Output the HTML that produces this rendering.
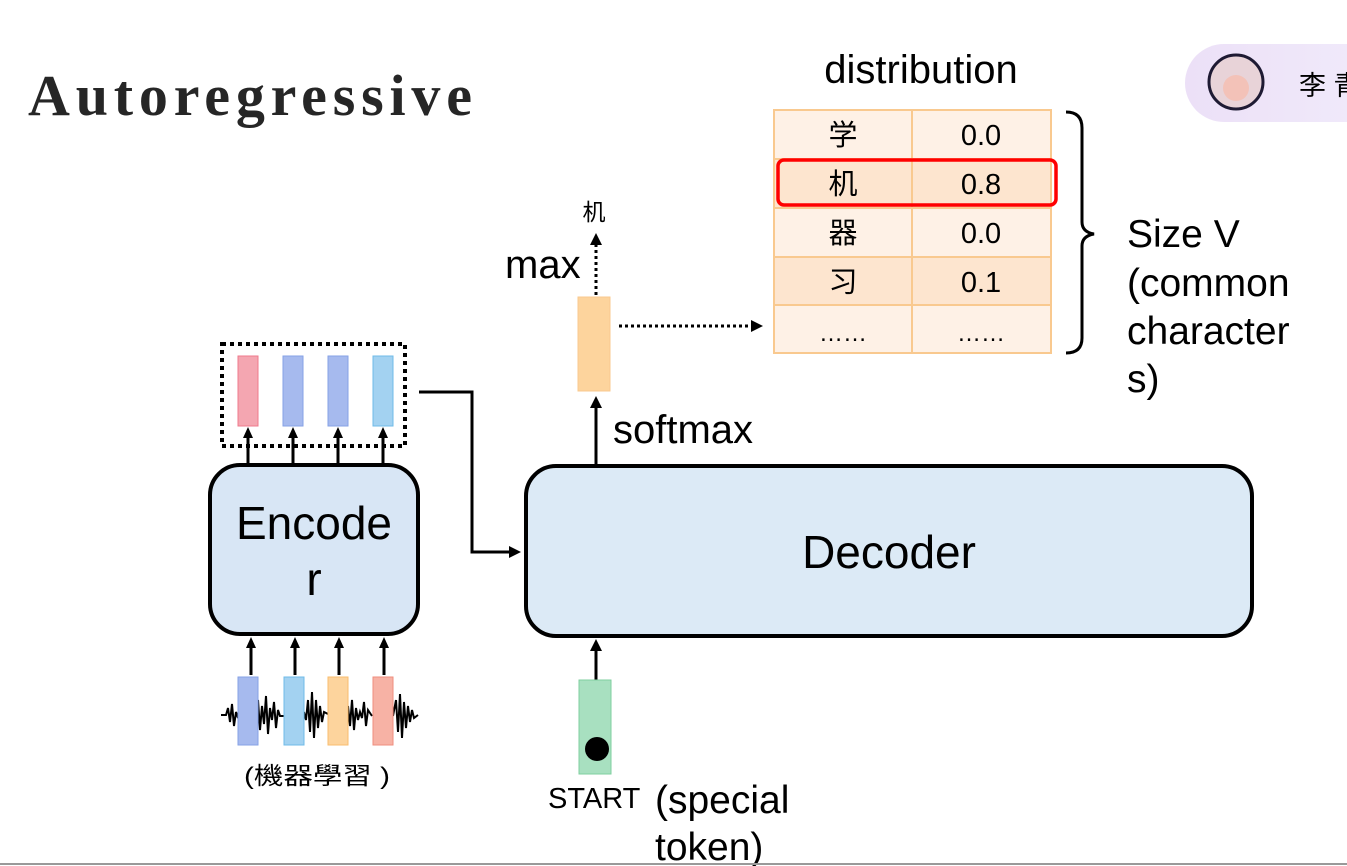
<!DOCTYPE html>
<html><head><meta charset="utf-8"><style>
html,body{margin:0;padding:0;background:#fff;}
svg{display:block;}
text{font-family:"Liberation Sans","Noto Sans CJK SC",sans-serif;fill:#000;}
</style></head><body>
<svg width="1347" height="866" viewBox="0 0 1347 866" xmlns="http://www.w3.org/2000/svg">
<defs>
<linearGradient id="badge" x1="0" x2="1"><stop offset="0" stop-color="#ece0f7"/><stop offset="1" stop-color="#f1ecfb"/></linearGradient>
</defs>
<text x="28" y="115" font-weight="bold" font-size="58" style="font-family:'Liberation Serif',serif;fill:#262626" textLength="444" lengthAdjust="spacing">Autoregressive</text>

<!-- badge -->
<rect x="1185" y="44" width="220" height="78" rx="39" fill="url(#badge)"/>
<circle cx="1236" cy="82" r="27" fill="#e8d3d8" stroke="#1e1a33" stroke-width="3"/>
<circle cx="1236" cy="88" r="13" fill="#f3c2b8"/>
<text x="1299" y="95" font-size="27">李 青</text>

<!-- distribution table -->
<text x="921" y="83" font-size="40" text-anchor="middle">distribution</text>
<g stroke="#f9c98f" stroke-width="2">
<rect x="774" y="110" width="277" height="49" fill="#fef1e6"/>
<rect x="774" y="159" width="277" height="49" fill="#fde5cf"/>
<rect x="774" y="208" width="277" height="49" fill="#fef1e6"/>
<rect x="774" y="257" width="277" height="48" fill="#fde5cf"/>
<rect x="774" y="305" width="277" height="48" fill="#fef1e6"/>
<line x1="912" y1="110" x2="912" y2="353"/>
</g>
<rect x="778" y="160" width="278" height="45" rx="6" fill="none" stroke="#f00" stroke-width="3.5"/>
<g font-size="29" text-anchor="middle">
<text x="843" y="145">学</text><text x="981" y="145">0.0</text>
<text x="843" y="194">机</text><text x="981" y="194">0.8</text>
<text x="843" y="243">器</text><text x="981" y="243">0.0</text>
<text x="843" y="292">习</text><text x="981" y="292">0.1</text>
<text x="843" y="341" font-size="24">……</text><text x="981" y="341" font-size="24">……</text>
</g>
<path d="M1066,112 Q1082,112 1082,128 L1082,222 Q1082,232 1094,234 Q1082,236 1082,246 L1082,338 Q1082,353 1066,353" fill="none" stroke="#000" stroke-width="3"/>
<g font-size="39">
<text x="1127" y="247">Size V</text>
<text x="1127" y="296">(common</text>
<text x="1127" y="344">character</text>
<text x="1127" y="392">s)</text>
</g>

<!-- orange output -->
<rect x="578" y="297" width="32" height="94" fill="#fdd49d" stroke="#f9c98f" stroke-width="1"/>
<line x1="619" y1="326" x2="752" y2="326" stroke="#000" stroke-width="3" stroke-dasharray="3,3"/>
<path d="M751,320 L763,326 L751,332 z"/>
<line x1="596" y1="295" x2="596" y2="244" stroke="#000" stroke-width="3" stroke-dasharray="3,3"/>
<path d="M590,245 L596,233 L602,245 z"/>
<text x="594" y="220" font-size="23" text-anchor="middle">机</text>
<text x="505" y="278" font-size="40">max</text>
<text x="613" y="443" font-size="40">softmax</text>
<line x1="596" y1="466" x2="596" y2="407" stroke="#000" stroke-width="3"/>
<path d="M590,408 L596,396 L602,408 z"/>

<!-- decoder -->
<rect x="526" y="466" width="726" height="170" rx="30" fill="#dceaf6" stroke="#000" stroke-width="4"/>
<text x="889" y="568" font-size="46" text-anchor="middle">Decoder</text>

<!-- encoder -->
<rect x="210" y="465" width="208" height="169" rx="30" fill="#d8e6f5" stroke="#000" stroke-width="4"/>
<text x="314" y="539" font-size="46" text-anchor="middle">Encode</text>
<text x="314" y="595" font-size="46" text-anchor="middle">r</text>

<!-- dotted box -->
<rect x="222" y="344" width="183" height="102" fill="none" stroke="#000" stroke-width="4" stroke-dasharray="4,4"/>
<rect x="238" y="356" width="20" height="70" fill="#f4a6b1" stroke="#ef7a8c"/>
<rect x="283" y="356" width="20" height="70" fill="#a6baee" stroke="#86a2e6"/>
<rect x="328" y="356" width="20" height="70" fill="#a6baee" stroke="#86a2e6"/>
<rect x="373" y="356" width="20" height="70" fill="#a3d2f1" stroke="#6fbbe8"/>
<g stroke="#000" stroke-width="3">
<line x1="248" y1="465" x2="248" y2="438"/><line x1="293" y1="465" x2="293" y2="438"/>
<line x1="338" y1="465" x2="338" y2="438"/><line x1="383" y1="465" x2="383" y2="438"/>
<line x1="251" y1="675" x2="251" y2="648"/><line x1="295" y1="675" x2="295" y2="648"/>
<line x1="339" y1="675" x2="339" y2="648"/><line x1="384" y1="675" x2="384" y2="648"/>
<line x1="596" y1="680" x2="596" y2="650"/>
</g>
<g>
<path d="M243,438 L248,427 L253,438z"/><path d="M288,438 L293,427 L298,438z"/>
<path d="M333,438 L338,427 L343,438z"/><path d="M378,438 L383,427 L388,438z"/>
<path d="M246,648 L251,637 L256,648z"/><path d="M290,648 L295,637 L300,648z"/>
<path d="M334,648 L339,637 L344,648z"/><path d="M379,648 L384,637 L389,648z"/>
<path d="M590,651 L596,639 L602,651z"/>
</g>
<!-- connector -->
<path d="M419,392 L472,392 L472,552 L510,552" fill="none" stroke="#000" stroke-width="3"/>
<path d="M509,546 L521,552 L509,558z"/>

<!-- waveform -->
<path d="M221,715 L226,715 L228,708 L230,722 L232,704 L234,726 L236,712 L238,718 M258,700 L260,730 L262,706 L264,724 L266,696 L268,734 L270,708 L272,720 L274,702 L276,728 L278,710 L280,716 L284,716 M304,712 L306,720 L308,700 L310,732 L312,692 L314,738 L316,700 L318,728 L320,706 L322,722 L324,712 L328,714 M348,706 L350,726 L352,700 L354,730 L356,708 L358,720 L360,712 L362,718 L364,702 L366,726 L368,710 L372,716 M393,716 L396,700 L398,732 L400,694 L402,738 L404,702 L406,728 L408,706 L410,722 L412,710 L414,718 L418,715" fill="none" stroke="#000" stroke-width="2"/>
<rect x="238" y="677" width="20" height="68" fill="#a6baee" stroke="#86a2e6"/>
<rect x="284" y="677" width="20" height="68" fill="#a3d2f1" stroke="#6fbbe8"/>
<rect x="328" y="677" width="20" height="68" fill="#fdd49d" stroke="#f9bd6e"/>
<rect x="373" y="677" width="20" height="68" fill="#f7b2a5" stroke="#ef8e7e"/>
<text x="244" y="784" font-size="24" fill="#222" textLength="146" lengthAdjust="spacingAndGlyphs">(機器學習 )</text>

<!-- start token -->
<rect x="579" y="680" width="32" height="94" fill="#a8e0c0" stroke="#7fcf9f"/>
<circle cx="597" cy="749" r="12" fill="#000"/>
<text x="548" y="808" font-size="29">START</text>
<text x="655" y="813" font-size="39">(special</text>
<text x="655" y="860" font-size="39">token)</text>

<line x1="0" y1="864" x2="1347" y2="864" stroke="#999" stroke-width="2"/>
</svg>
</body></html>
